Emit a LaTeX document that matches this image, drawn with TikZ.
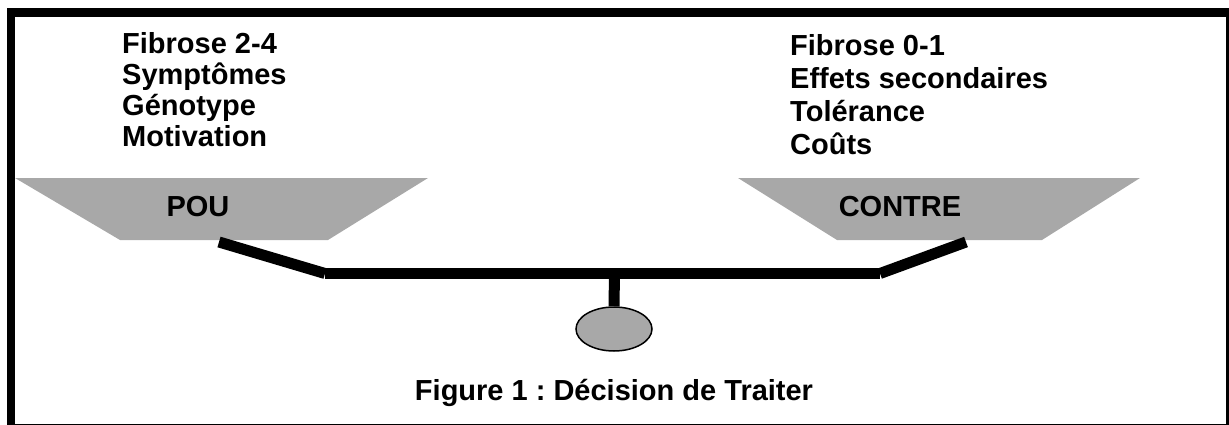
\documentclass[tikz,border=0pt]{standalone}
\usepackage{fontspec}
\setmainfont{Liberation Sans}
\frenchspacing
\usetikzlibrary{positioning,shapes.geometric}
\definecolor{pangray}{HTML}{A8A8A8}

\begin{document}
\begin{tikzpicture}[x=1pt,y=-1pt,
  lbl/.style={font=\fontsize{29}{31}\selectfont\bfseries,inner sep=0pt},
  listlbl/.style={lbl,align=left,anchor=north west},
  bar/.style={line width=11pt,line cap=butt}]
\useasboundingbox (0,0) rectangle (1229,425);
\clip (0,0) rectangle (1229,425);
% Two pans of the balance
\fill[pangray] (15,178) -- (428,178) -- (328,240) -- (120,240) -- cycle;
\fill[pangray] (738,178) -- (1140,178) -- (1042,240) -- (837,240) -- cycle;
\node[lbl,anchor=base] (pou) at (198,216) {POU};
\node[lbl,anchor=base] (contre) at (900,216) {CONTRE};
% Arguments above each pan
\node[listlbl] (pourlist) at (122,32)
  {Fibrose 2-4\\Symptômes\\Génotype\\Motivation};
\node[listlbl,font=\fontsize{29}{33}\selectfont\bfseries] (contrelist) at (790,34)
  {Fibrose 0-1\\Effets secondaires\\Tolérance\\Coûts};
% Beam
\coordinate (lend) at (219,242);
\coordinate (lknee) at (325,273.5);
\coordinate (rknee) at (880,273.5);
\coordinate (rend) at (966,242);
\coordinate (pivot) at (614.5,273.5);
\draw[bar] (lend) -- (lknee);
\draw[bar] (lknee) -- (rknee);
\draw[bar] (rknee) -- (rend);
% Counterweight
\node[ellipse,draw,line width=1.5pt,fill=pangray,inner sep=0pt,
  minimum width=76pt,minimum height=44pt] (weight) at (614,329) {};
\draw[bar] (pivot) -- (weight.north);
\node[lbl,anchor=base] (caption) at (614,400) {Figure 1 : Décision de Traiter};
% Frame
\draw[line width=8.5pt] (11,12.5) rectangle (1230.5,428.5);
\end{tikzpicture}
\end{document}
